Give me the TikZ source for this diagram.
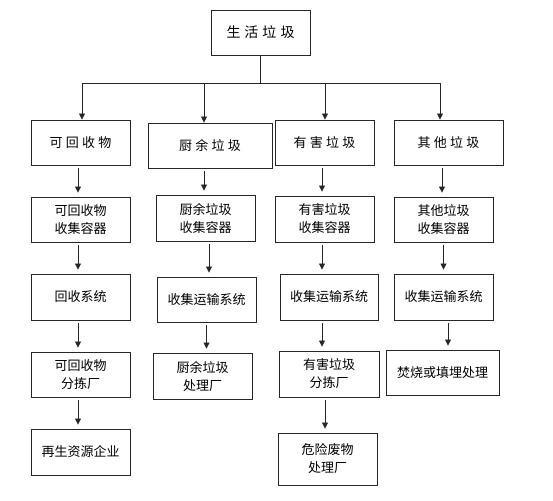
\documentclass[tikz,border=0pt]{standalone}
\usepackage{fontspec}
\newfontfamily\cjk{Noto Sans CJK SC}
\usetikzlibrary{arrows.meta}
\newcommand{\cjkgap}{\hspace{3.2pt}}
\begin{document}
\begin{tikzpicture}[x=1pt,y=-1pt]
\tikzstyle{every node}+=[inner sep=0pt,align=center,font=\cjk\fontsize{13}{18}\selectfont]
\tikzstyle{box}=[draw=black!85,line width=0.9pt,minimum width=99pt,minimum height=45pt]
\tikzstyle{arr}=[draw=black!85,line width=0.8pt,-{Triangle[length=6pt,width=6pt]}]
\tikzstyle{step arr}=[arr,shorten <=3pt,shorten >=4pt]
\useasboundingbox (0,0) rectangle (553,500);
\node [box,minimum height=45pt] (top) at (260.5,32.5) {\fontsize{14}{18}\selectfont 生\hspace{4pt}活\hspace{4pt}垃\hspace{4pt}圾};
\node [box] (r1a) at (80.5,142.5) {可\cjkgap 回\cjkgap 收\cjkgap 物};
\node [box,minimum width=124pt] (r1b) at (210,145.5) {厨\cjkgap 余\cjkgap 垃\cjkgap 圾};
\node [box] (r1c) at (324.5,142.5) {有\cjkgap 害\cjkgap 垃\cjkgap 圾};
\node [box,minimum width=109pt] (r1d) at (448.5,142.5) {其\cjkgap 他\cjkgap 垃\cjkgap 圾};
\node [box] (r2a) at (80.5,219.5) {可回收物\\收集容器};
\node [box,minimum height=46pt] (r2b) at (205.5,218) {厨余垃圾\\收集容器};
\node [box,minimum height=46pt] (r2c) at (324.5,219) {有害垃圾\\收集容器};
\node [box] (r2d) at (443.5,219.5) {其他垃圾\\收集容器};
\node [box,minimum height=46pt] (r3a) at (80.5,297) {回收系统};
\node [box] (r3b) at (206.5,299.5) {收集运输系统};
\node [box,minimum width=98pt,minimum height=46pt] (r3c) at (329,297) {收集运输系统};
\node [box,minimum height=46pt] (r3d) at (443.5,297) {收集运输系统};
\node [box] (r4a) at (80.5,374.5) {可回收物\\分拣厂};
\node [box,minimum height=46pt] (r4b) at (202.5,376) {厨余垃圾\\处理厂};
\node [box,minimum width=100pt,minimum height=46pt] (r4c) at (329,374) {有害垃圾\\分拣厂};
\node [box,minimum width=113pt] (r4d) at (442.5,372.5) {焚烧或填埋处理};
\node [box,minimum height=46pt] (r5a) at (80.5,452) {再生资源企业};
\node [box,minimum height=52pt] (r5c) at (327.5,459) {危险废物\\处理厂};
\coordinate (b1) at (82,83);
\coordinate (b2) at (204,83);
\coordinate (b3) at (325,83);
\coordinate (b4) at (440,83);
\draw [black!85,line width=0.8pt] (top.south) -- (top.south |- b1);
\draw [black!85,line width=0.8pt] (b1) -- (b4);
\draw [arr] (b1) -- (b1 |- r1a.north);
\draw [arr] (b2) -- (b2 |- r1b.north);
\draw [arr] (b3) -- (b3 |- r1c.north);
\draw [arr] (b4) -- (b4 |- r1d.north);
\draw [step arr] ([xshift=-2.5pt]r2a.north |- r1a.south) -- ([xshift=-2.5pt]r2a.north);
\draw [step arr] ([xshift=-2.5pt]r2a.south) -- ([xshift=-2.5pt]r3a.north);
\draw [step arr] ([xshift=-2.5pt]r3a.south) -- ([xshift=-2.5pt]r4a.north);
\draw [step arr] ([xshift=-2.5pt]r4a.south) -- ([xshift=-2.5pt]r5a.north);
\draw [step arr] ([xshift=-1.5pt]r2b.north |- r1b.south) -- ([xshift=-1.5pt]r2b.north);
\draw [step arr] ([xshift=3.5pt]r2b.south) -- ([xshift=3.5pt]r2b.south |- r3b.north);
\draw [step arr] (r3b.south) -- (r3b.south |- r4b.north);
\draw [step arr] ([xshift=-2.5pt]r2c.north |- r1c.south) -- ([xshift=-2.5pt]r2c.north);
\draw [step arr] ([xshift=-2.5pt]r2c.south) -- ([xshift=-2.5pt]r2c.south |- r3c.north);
\draw [step arr] ([xshift=-7pt]r3c.south) -- ([xshift=-7pt]r4c.north);
\draw [step arr] ([xshift=-4pt]r4c.south) -- ([xshift=-4pt]r4c.south |- r5c.north);
\draw [step arr] ([xshift=-1.5pt]r2d.north |- r1d.south) -- ([xshift=-1.5pt]r2d.north);
\draw [step arr] (r2d.south) -- (r3d.north);
\draw [step arr] ([xshift=4.5pt]r3d.south) -- ([xshift=4.5pt]r3d.south |- r4d.north);
\end{tikzpicture}
\end{document}
